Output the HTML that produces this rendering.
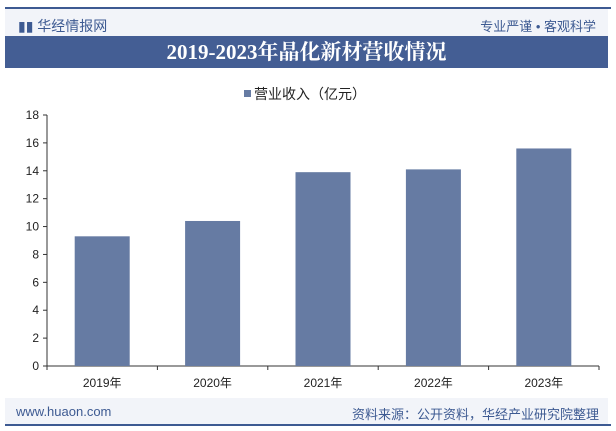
<!DOCTYPE html>
<html><head><meta charset="utf-8"><style>
body{margin:0;width:616px;height:431px;background:#fff;font-family:"Liberation Sans","Noto Sans CJK SC",sans-serif;position:relative;overflow:hidden}
.abs{position:absolute}
</style></head><body>
<div class="abs" style="left:5px;top:7px;width:606px;height:2px;background:#3d5a92"></div>
<div class="abs" style="left:5px;top:9px;width:603px;height:27px;background:#f2f4f9"></div>
<div class="abs" style="left:18px;top:16px;font-size:14px;color:#3d5a92">▮▮ 华经情报网</div>
<div class="abs" style="right:20px;top:16px;font-size:13px;color:#3d5a92">专业严谨 • 客观科学</div>
<div class="abs" style="left:5px;top:36px;width:603px;height:32px;background:#445e94;color:#fff;font-family:'Liberation Serif','Noto Serif CJK SC',serif;font-weight:bold;font-size:21px;text-align:center;line-height:32px">2019-2023年晶化新材营收情况</div>
<div class="abs" style="left:244px;top:84px;font-size:14px;color:#222"><span style="display:inline-block;width:7px;height:7px;background:#667ba3;margin-right:3px;vertical-align:2px"></span>营业收入（亿元）</div>
<svg class="abs" style="left:0;top:0" width="616" height="431" id="chart"></svg>
<div class="abs" style="left:5px;top:398px;width:603px;height:27px;background:#f2f4f9"></div>
<div class="abs" style="left:5px;top:424px;width:606px;height:2px;background:#3d5a92"></div>
<div class="abs" style="left:16px;top:404px;font-size:13px;color:#3d5a92">www.huaon.com</div>
<div class="abs" style="right:17px;top:404px;font-size:13px;color:#3d5a92">资料来源：公开资料，华经产业研究院整理</div>
<script>
const categories=["2019年","2020年","2021年","2022年","2023年"];
const values=[9.3,10.4,13.9,14.1,15.6];
const ticks=[0,2,4,6,8,10,12,14,16,18];
const svg=document.getElementById('chart');
const NS='http://www.w3.org/2000/svg';
const x0=47,x1=599,y0=366,y1=115,ymax=18;
const y=v=>y0-(v/ymax)*(y0-y1);
const bw=(x1-x0)/categories.length;
function mk(t,a){const e=document.createElementNS(NS,t);for(const k in a)e.setAttribute(k,a[k]);svg.appendChild(e);return e;}
let ax=mk('line',{x1:x0,y1:y1,x2:x0,y2:y0,stroke:'#333','stroke-width':1});


let bx=mk('line',{x1:x0,y1:y0,x2:x1,y2:y0,stroke:'#333','stroke-width':1});


ticks.forEach(t=>{
  mk('line',{x1:x0-4,y1:y(t),x2:x0,y2:y(t),stroke:'#333'});
  const tx=mk('text',{x:x0-8,y:y(t)+4,'text-anchor':'end','font-size':12,fill:'#222'});
  tx.textContent=t;
  
  
});
for(let i=0;i<=categories.length;i++)mk('line',{x1:x0+i*bw,y1:y0,x2:x0+i*bw,y2:y0+4,stroke:'#333'});
categories.forEach((c,i)=>{
  const cx=x0+bw*(i+0.5);
  const r=mk('rect',{x:cx-27.5,y:y(values[i]),width:55,height:y0-y(values[i]),fill:'#667ba3'});
  
  
  const t=mk('text',{x:cx,y:y0+21,'text-anchor':'middle','font-size':12,fill:'#222'});
  t.textContent=c;
  
  
});
</script>
</body></html>
